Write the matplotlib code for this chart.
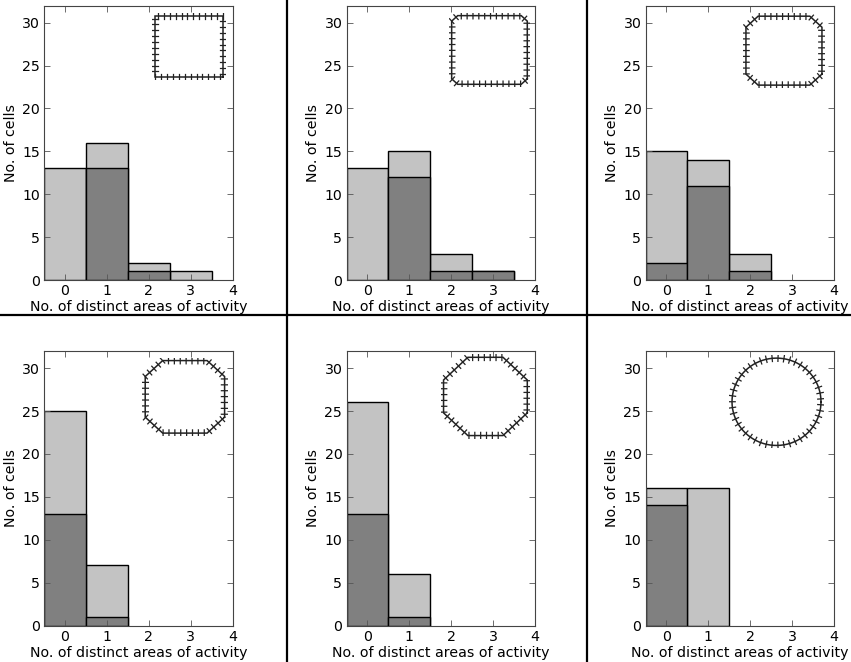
import numpy as np
import matplotlib
matplotlib.use("Agg")
import matplotlib.pyplot as plt
from matplotlib.lines import Line2D

# ---- data ----
categories = [0, 1, 2, 3]
light_counts = [
    [13, 16, 2, 1],
    [13, 15, 3, 1],
    [15, 14, 3, 0],
    [25, 7, 0, 0],
    [26, 6, 0, 0],
    [16, 16, 0, 0],
]
dark_counts = [
    [0, 13, 1, 0],
    [0, 12, 1, 1],
    [2, 11, 1, 0],
    [13, 1, 0, 0],
    [13, 1, 0, 0],
    [14, 0, 0, 0],
]
# inset shape: chamfer fraction of each corner (None = circle)
shape_chamfer = [0.0, 0.08, 0.16, 0.22, 0.29, None]
xticks = [0, 1, 2, 3, 4]
yticks = [0, 5, 10, 15, 20, 25, 30]
xlabel = "No. of distinct areas of activity"
ylabel = "No. of cells"

# ---- layout (pixels) ----
W, H = 851, 662
col_left = [44, 346.5, 645.5]
row_top = [5.5, 351]
ax_w, ax_h = 188.5, 274.5
# inset bbox in axes fraction (x0, y0, x1, y1)
inset_boxes = [
    (0.573, 0.729, 0.966, 0.974),
    (0.542, 0.702, 0.975, 0.974),
    (0.517, 0.699, 0.952, 0.972),
    (0.521, 0.690, 0.974, 0.976),
    (0.499, 0.681, 0.975, 0.988),
    (0.443, 0.645, 0.947, 0.985),
]

LIGHT = "#c3c3c3"
DARK = "#808080"

plt.rcParams["font.family"] = ["DejaVu Sans"]
plt.rcParams["font.size"] = 10.2

fig = plt.figure(figsize=(W / 100, H / 100), dpi=100)


def shape_path(c, n_circle=400):
    """Unit shape in [-1,1]^2."""
    if c is None:
        t = np.linspace(0, 2 * np.pi, n_circle)
        return np.cos(t), np.sin(t)
    a = 1.0
    b = 1.0 - 2 * c  # remaining half-length after chamfer
    pts = [(a, -b), (a, b), (b, a), (-b, a), (-a, b), (-a, -b), (-b, -a), (b, -a), (a, -b)]
    pts = np.array(pts)
    return pts[:, 0], pts[:, 1]


def resample(x, y, step):
    seg = np.hypot(np.diff(x), np.diff(y))
    keep = seg > 1e-9
    s = np.concatenate([[0], np.cumsum(seg)])
    n = max(int(s[-1] / step), 4)
    si = np.linspace(0, s[-1], n, endpoint=False) + step * 0.5
    xi = np.interp(si, s, x)
    yi = np.interp(si, s, y)
    idx = np.clip(np.searchsorted(s, si) - 1, 0, len(seg) - 1)
    sg = np.where(seg[idx] > 1e-9, seg[idx], 1.0)
    tx = np.diff(x)[idx] / sg
    ty = np.diff(y)[idx] / sg
    return xi, yi, tx, ty


for i in range(6):
    r, cidx = divmod(i, 3)
    left = col_left[cidx] / W
    bottom = (H - (row_top[r] + ax_h)) / H
    ax = fig.add_axes([left, bottom, ax_w / W, ax_h / H])
    b1 = ax.bar(categories, light_counts[i], width=1.0, color=LIGHT, edgecolor="black", linewidth=1.0)
    b2 = ax.bar(categories, dark_counts[i], width=1.0, color=DARK, edgecolor="black", linewidth=1.0)
    for p in list(b1) + list(b2):
        if p.get_height() == 0:
            p.set_visible(False)
    ax.set_xlim(-0.5, 4)
    ax.set_ylim(0, 32)
    ax.set_xticks(xticks)
    ax.set_yticks(yticks)
    ax.tick_params(direction="in", top=True, right=True, length=4, width=0.6, color="#555555", pad=3)
    for sp in ax.spines.values():
        sp.set_color("#444444")
        sp.set_linewidth(0.8)
    ax.set_xlabel(xlabel, labelpad=1.5)
    ax.set_ylabel(ylabel, labelpad=3)

    # inset shape drawn in pixel units
    x0, y0, x1, y1 = inset_boxes[i]
    iw, ih = (x1 - x0) * ax_w, (y1 - y0) * ax_h
    ins = ax.inset_axes([x0, y0, x1 - x0, y1 - y0])
    ins.set_xlim(0, iw)
    ins.set_ylim(0, ih)
    ins.axis("off")
    m = 3.0
    ux, uy = shape_path(shape_chamfer[i])
    px = (ux + 1) / 2 * (iw - 2 * m) + m
    py = (uy + 1) / 2 * (ih - 2 * m) + m
    ins.plot(px, py, color="#222222", lw=1.1, solid_joinstyle="miter")
    xi, yi, tx, ty = resample(px, py, 5.8)
    nx, ny = -ty, tx  # normal
    segs_x = np.vstack([xi - nx * 3.2, xi + nx * 3.2, np.full_like(xi, np.nan)]).T.ravel()
    segs_y = np.vstack([yi - ny * 3.2, yi + ny * 3.2, np.full_like(yi, np.nan)]).T.ravel()
    ins.plot(segs_x, segs_y, color="#222222", lw=0.9)

# separators
fig.add_artist(Line2D([287 / W, 287 / W], [0, 1], transform=fig.transFigure, color="black", lw=1.6))
fig.add_artist(Line2D([587 / W, 587 / W], [0, 1], transform=fig.transFigure, color="black", lw=1.6))
fig.add_artist(Line2D([0, 1], [1 - 315 / H, 1 - 315 / H], transform=fig.transFigure, color="black", lw=1.6))

fig.savefig("out.png", dpi=100, facecolor="white")
